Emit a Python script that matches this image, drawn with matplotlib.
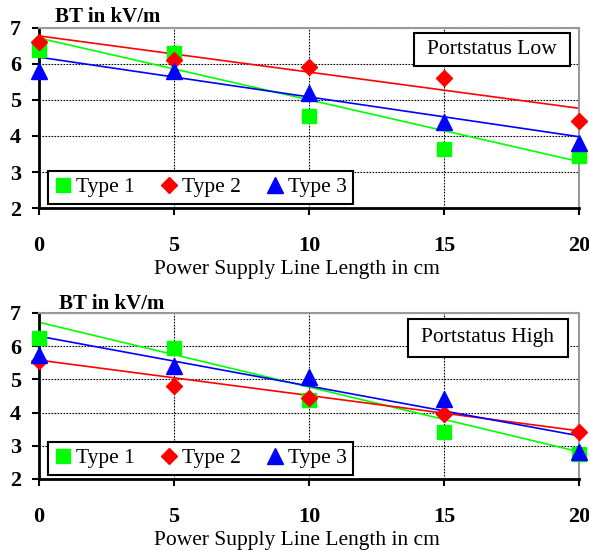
import numpy as np
import matplotlib.pyplot as plt
from matplotlib.patches import Rectangle

# positions along the supply line (cm)
lengths = [0, 5, 10, 15, 20]
series_names = ["Type 1", "Type 2", "Type 3"]

# Portstatus Low
low_type1 = [6.4, 6.3, 4.55, 3.65, 3.45]
low_type2 = [6.6, 6.1, 5.93, 5.6, 4.43]
low_type3 = [5.8, 5.8, 5.2, 4.4, 3.8]
# trend line values at 0 cm and 20 cm
low_trend1 = [6.72, 3.29]
low_trend2 = [6.78, 4.77]
low_trend3 = [6.19, 3.98]

# Portstatus High
high_type1 = [6.25, 5.94, 4.38, 3.42, 2.75]
high_type2 = [5.55, 4.8, 4.43, 3.95, 3.4]
high_type3 = [5.73, 5.4, 5.08, 4.4, 2.8]
high_trend1 = [6.72, 2.82]
high_trend2 = [5.58, 3.45]
high_trend3 = [6.3, 3.3]

trend_x = [0, 20]
colors = ["#00ff00", "#ff0000", "#0000ff"]
markers = ["s", "D", "^"]
msizes = [10, 8.5, 11]

plt.rcParams['font.family'] = ['Liberation Serif', 'DejaVu Serif']

fig = plt.figure(figsize=(5.89, 5.51), dpi=100)


def draw_panel(rect, values, trends, status, box):
    ax = fig.add_axes(rect)
    for vals, tr, c, m, ms, name in zip(values, trends, colors, markers, msizes, series_names):
        ax.plot(trend_x, tr, color=c, lw=1.2, zorder=2)
        ax.plot(lengths, vals, linestyle="none", marker=m, markersize=ms,
                color=c, label=name, zorder=3, clip_on=False)
    ax.set_xlim(0, 20)
    ax.set_ylim(2, 7)
    ax.set_xticks(lengths)
    ax.set_yticks(range(2, 8))
    ax.grid(True, color="black", linestyle=(0, (1.5, 1.2)), linewidth=0.8)
    ax.set_axisbelow(True)
    for s in ("top", "right"):
        ax.spines[s].set_color("#999999")
        ax.spines[s].set_linewidth(1.5)
    for s in ("left", "bottom"):
        ax.spines[s].set_color("black")
        ax.spines[s].set_linewidth(2)
    ax.tick_params(axis="y", direction="out", length=5, width=1.5, pad=8,
                   labelsize=16)
    ax.tick_params(axis="x", direction="out", length=5, width=1.5, pad=15,
                   labelsize=16)
    for lab in ax.get_xticklabels() + ax.get_yticklabels():
        lab.set_fontweight("bold")
    ax.set_xlabel("Power Supply Line Length in cm", fontsize=15.5, labelpad=3)
    ax.xaxis.label.set_x(0.478)
    leg = ax.legend(loc="lower left", bbox_to_anchor=(0.016, 0.025), ncol=3,
                    fontsize=15.5, frameon=True, fancybox=False, edgecolor="black",
                    handlelength=0.8, handletextpad=0.2, columnspacing=1.2,
                    borderpad=0.3, borderaxespad=0.0)
    leg.get_frame().set_linewidth(1.5)
    leg.get_frame().set_alpha(1)
    x0, y0, x1, y1 = box
    ax.add_patch(Rectangle((x0, y0), x1 - x0, y1 - y0, transform=ax.transAxes,
                           fc="white", ec="black", lw=1.5, zorder=5, clip_on=False))
    ax.text((x0 + x1) / 2, (y0 + y1) / 2, status, transform=ax.transAxes,
            ha="center", va="center", fontsize=15.5, zorder=6)
    return ax


ax1 = draw_panel([0.0662, 0.6225, 0.9168, 0.3267],
                 [low_type1, low_type2, low_type3],
                 [low_trend1, low_trend2, low_trend3], "Portstatus Low",
                 (0.694, 0.789, 0.983, 0.972))
ax2 = draw_panel([0.0662, 0.1307, 0.9168, 0.3013],
                 [high_type1, high_type2, high_type3],
                 [high_trend1, high_trend2, high_trend3], "Portstatus High",
                 (0.683, 0.735, 0.98, 0.964))

fig.text(0.093, 0.969, "BT in kV/m", fontsize=15, fontweight="bold", va="center")
fig.text(0.100, 0.448, "BT in kV/m", fontsize=15, fontweight="bold", va="center")

fig.savefig("out.png", dpi=100)
